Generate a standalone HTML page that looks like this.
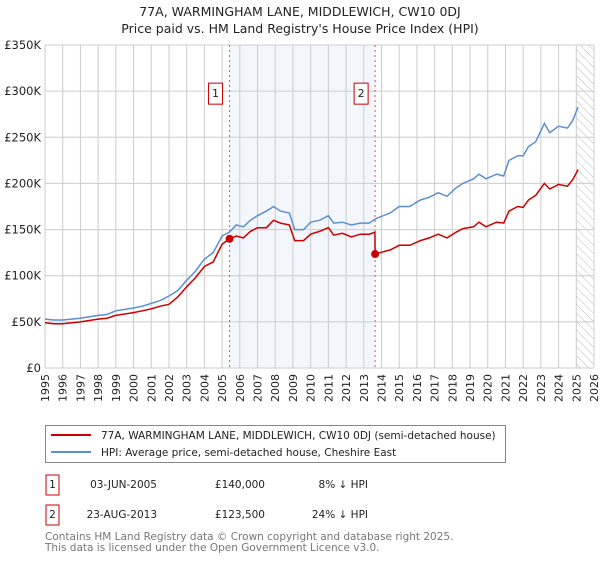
<!DOCTYPE html>
<html><head><meta charset="utf-8"><style>
body{margin:0;background:#fff;font-family:"DejaVu Sans","Liberation Sans",sans-serif;}
svg text{font-family:"DejaVu Sans","Liberation Sans",sans-serif;}
</style></head><body>
<svg id="c" width="600" height="560" viewBox="0 0 600 560" xmlns="http://www.w3.org/2000/svg">
<defs><pattern id="hatch" width="6" height="6" patternUnits="userSpaceOnUse" patternTransform="rotate(-45)"><line x1="0" y1="0" x2="0" y2="6" stroke="#bbb" stroke-width="1"/></pattern></defs>
<text x="300" y="16" text-anchor="middle" font-size="12.5" fill="#222">77A, WARMINGHAM LANE, MIDDLEWICH, CW10 0DJ</text>
<text x="300" y="33" text-anchor="middle" font-size="12.5" fill="#222">Price paid vs. HM Land Registry's House Price Index (HPI)</text>
<g id="plot"></g>
<g>
<rect x="45.5" y="425.5" width="460" height="37" fill="#fff" stroke="#888"/>
<line x1="51" y1="435" x2="91" y2="435" stroke="#cc0000" stroke-width="2"/>
<text x="101" y="439" font-size="10.5" fill="#222">77A, WARMINGHAM LANE, MIDDLEWICH, CW10 0DJ (semi-detached house)</text>
<line x1="51" y1="452" x2="91" y2="452" stroke="#5b8fd0" stroke-width="2"/>
<text x="101" y="456" font-size="10.5" fill="#222">HPI: Average price, semi-detached house, Cheshire East</text>
</g>
<g font-size="10.5" fill="#222">
<rect x="46" y="475" width="13" height="20" fill="#fff" stroke="#cc0000"/><text x="52.5" y="488" text-anchor="middle">1</text>
<text x="157" y="488" text-anchor="end">03-JUN-2005</text><text x="265" y="488" text-anchor="end">£140,000</text><text x="368" y="488" text-anchor="end">8% ↓ HPI</text>
<rect x="46" y="505" width="13" height="20" fill="#fff" stroke="#cc0000"/><text x="52.5" y="518" text-anchor="middle">2</text>
<text x="157" y="518" text-anchor="end">23-AUG-2013</text><text x="265" y="518" text-anchor="end">£123,500</text><text x="368" y="518" text-anchor="end">24% ↓ HPI</text>
</g>
<text x="45" y="540" font-size="10.5" fill="#777">Contains HM Land Registry data © Crown copyright and database right 2025.</text>
<text x="45" y="551" font-size="10.5" fill="#777">This data is licensed under the Open Government Licence v3.0.</text>
</svg>
<script>
const years=[1995,1996,1997,1998,1999,2000,2001,2002,2003,2004,2005,2006,2007,2008,2009,2010,2011,2012,2013,2014,2015,2016,2017,2018,2019,2020,2021,2022,2023,2024,2025,2026];
const yTicks=[0,50,100,150,200,250,300,350];
const yTickLabels=["£0","£50K","£100K","£150K","£200K","£250K","£300K","£350K"];
const hpiT=[1995,1995.5,1996,1997,1998,1998.5,1999,2000,2000.5,2001,2001.5,2002,2002.5,2003,2003.5,2004,2004.5,2005,2005.4,2005.8,2006.2,2006.6,2007,2007.5,2007.9,2008.3,2008.8,2009.1,2009.6,2010,2010.5,2011,2011.3,2011.8,2012.3,2012.8,2013.3,2013.7,2014.5,2015,2015.6,2016.2,2016.7,2017.2,2017.7,2018.2,2018.6,2019.2,2019.5,2019.9,2020.5,2020.9,2021.2,2021.7,2022,2022.3,2022.7,2023.2,2023.5,2024,2024.5,2024.8,2025.1];
const hpiV=[53,52,52,54,57,58,62,65,67,70,73,78,84,95,105,118,125,143,147,155,153,160,165,170,175,170,168,150,150,158,160,165,157,158,155,157,157,162,168,175,175,182,185,190,186,195,200,205,210,205,210,208,225,230,230,240,245,265,255,262,260,268,283];
const redT=[1995,1995.5,1996,1997,1998,1998.5,1999,2000,2000.5,2001,2001.5,2002,2002.5,2003,2003.5,2004,2004.5,2005,2005.42,2005.8,2006.2,2006.6,2007,2007.5,2007.9,2008.3,2008.8,2009.1,2009.6,2010,2010.5,2011,2011.3,2011.8,2012.3,2012.8,2013.3,2013.63,2013.64,2014.5,2015,2015.6,2016.2,2016.7,2017.2,2017.7,2018.2,2018.6,2019.2,2019.5,2019.9,2020.5,2020.9,2021.2,2021.7,2022,2022.3,2022.7,2023.2,2023.5,2024,2024.5,2024.8,2025.1];
const redV=[49,48,48,50,53,54,57,60,62,64,67,69,77,88,98,110,115,134,140,143,141,148,152,152,160,157,155,138,138,145,148,152,144,146,142,145,145,147,123.5,128,133,133,138,141,145,141,147,151,153,158,153,158,157,170,175,174,182,187,200,194,199,197,204,215];
const sales=[{n:"1",t:2005.42,v:140},{n:"2",t:2013.64,v:123.5}];
const L=45,R=594,T=45,B=368,X0=1995,X1=2026,YMAX=350;
const sx=t=>L+(t-X0)/(X1-X0)*(R-L), sy=v=>B-v/YMAX*(B-T);
const NS="http://www.w3.org/2000/svg", g=document.getElementById('plot');
function mk(tag,attrs,parent){const e=document.createElementNS(NS,tag);for(const k in attrs)e.setAttribute(k,attrs[k]);(parent||g).appendChild(e);return e;}
let e=mk('rect',{x:sx(sales[0].t),y:T,width:sx(sales[1].t)-sx(sales[0].t),height:B-T,fill:'#f3f7fd'});


e=mk('rect',{x:sx(2025.0),y:T,width:R-sx(2025.0),height:B-T,fill:'url(#hatch)'});


years.forEach(y=>{const x=sx(y);
 let l=mk('line',{x1:x,y1:T,x2:x,y2:B,stroke:'#ccc','stroke-width':1});
 
 
 let t=mk('text',{x:0,y:0,'font-size':11,fill:'#222','text-anchor':'end',transform:`translate(${x+4},${B+6}) rotate(-90)`});
 t.textContent=y;
 
 
});
yTicks.forEach((v,i)=>{const y=sy(v);
 let l=mk('line',{x1:L,y1:y,x2:R,y2:y,stroke:'#ccc','stroke-width':1});
 
 
 let t=mk('text',{x:L-4,y:y+4,'font-size':11.5,fill:'#222','text-anchor':'end'});
 t.textContent=yTickLabels[i];
 
 
});
sales.forEach(s=>{const x=sx(s.t);
 let l=mk('line',{x1:x,y1:T,x2:x,y2:B,stroke:'#e05050','stroke-width':1,'stroke-dasharray':'2,3'});
 
 
 let r=mk('rect',{x:x-21,y:sy(300)-8,width:14,height:21,fill:'#fff',stroke:'#cc0000'});
 
 
 let t=mk('text',{x:x-14,y:sy(300)+6,'font-size':11,fill:'#222','text-anchor':'middle'});
 t.textContent=s.n;
 
 
});
const pts=(T_,V_)=>T_.map((t,i)=>sx(t).toFixed(1)+','+sy(V_[i]).toFixed(1)).join(' ');
e=mk('polyline',{points:pts(hpiT,hpiV),fill:'none',stroke:'#5b8fd0','stroke-width':1.5});


e=mk('polyline',{points:pts(redT,redV),fill:'none',stroke:'#cc0000','stroke-width':1.5});


sales.forEach(s=>{let c=mk('circle',{cx:sx(s.t),cy:sy(s.v),r:4,fill:'#cc0000'});
 
 
});
</script>
</body></html>
